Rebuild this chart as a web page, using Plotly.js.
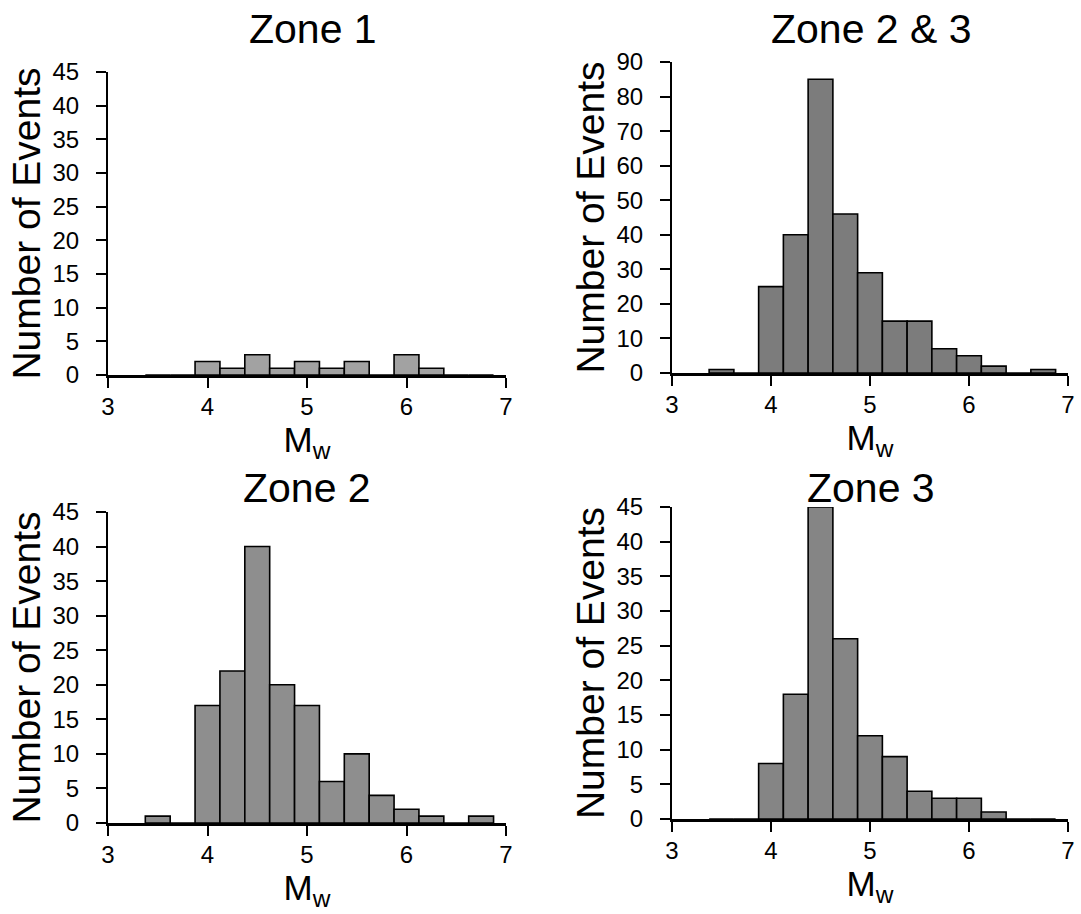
<!DOCTYPE html>
<html>
<head>
<meta charset="utf-8">
<script src="https://cdn.plot.ly/plotly-3.0.1.min.js"></script>
<style>
  html, body { margin: 0; padding: 0; background: #ffffff; }
  #chart { width: 1081px; height: 914px; }
</style>
</head>
<body>
<div id="chart"></div>
<script>
// Bin centres of moment magnitude (bin width 0.25)
const magCenters = [3.5, 3.75, 4.0, 4.25, 4.5, 4.75, 5.0, 5.25, 5.5, 5.75, 6.0, 6.25, 6.5, 6.75];
// Number of events per bin
const zone1  = [0, 0, 2, 1, 3, 1, 2, 1, 2, 0, 3, 1, 0, 0];
const zone23 = [1, 0, 25, 40, 85, 46, 29, 15, 15, 7, 5, 2, 0, 1];
const zone2  = [1, 0, 17, 22, 40, 20, 17, 6, 10, 4, 2, 1, 0, 1];
const zone3  = [0, 0, 8, 18, 45, 26, 12, 9, 4, 3, 3, 1, 0, 0];
const panelTitles = ["Zone 1", "Zone 2 & 3", "Zone 2", "Zone 3"];
const xTicks = [3, 4, 5, 6, 7];

const W = 1081, H = 914;
const FONT = "Arial, 'Liberation Sans', Helvetica, sans-serif";
const px = v => v / W;
const py = v => 1 - v / H;

function bar(y, xa, ya, color) {
  return {
    type: 'bar', x: magCenters, y: y, width: 0.25,
    xaxis: xa, yaxis: ya,
    marker: { color: color, line: { color: '#000', width: 1.6 } },
    showlegend: false, hoverinfo: 'x+y'
  };
}

const data = [
  bar(zone1, 'x', 'y', '#a2a2a2'),
  bar(zone23, 'x2', 'y2', '#7c7c7c'),
  bar(zone2, 'x3', 'y3', '#8e8e8e'),
  bar(zone3, 'x4', 'y4', '#858585')
];

function xaxis(domain, anchor) {
  return {
    domain: domain, anchor: anchor, range: [3, 7],
    tickmode: 'array', tickvals: xTicks, ticktext: xTicks.map(String),
    ticks: 'outside', ticklen: 10, tickwidth: 2, tickcolor: '#000',
    ticklabelstandoff: -2,
    showline: true, linecolor: '#000', linewidth: 3,
    showgrid: false, zeroline: false,
    tickfont: { family: FONT, size: 24, color: '#000' },
    title: { text: 'M<sub>w</sub>', font: { family: FONT, size: 35, color: '#000' }, standoff: 0 },
    automargin: false, fixedrange: true
  };
}
function yaxis(domain, anchor, max, dtick) {
  return {
    domain: domain, anchor: anchor, range: [0, max],
    tick0: 0, dtick: dtick,
    ticks: 'outside', ticklen: 10, tickwidth: 2, tickcolor: '#000',
    ticklabelstandoff: 12,
    showline: true, linecolor: '#000', linewidth: 2,
    showgrid: false, zeroline: false,
    tickfont: { family: FONT, size: 24, color: '#000' },
    title: { text: 'Number of Events', font: { family: FONT, size: 39, color: '#000' }, standoff: 0 },
    automargin: false, fixedrange: true
  };
}

const leftX = [px(108), px(506)];
const rightX = [px(672), px(1068)];

const layout = {
  width: W, height: H,
  margin: { l: 0, r: 0, t: 0, b: 0 },
  paper_bgcolor: '#fff', plot_bgcolor: '#fff',
  font: { family: FONT, color: '#000' },
  bargap: 0,
  xaxis: xaxis(leftX, 'y'),
  yaxis: yaxis([py(375), py(72)], 'x', 45, 5),
  xaxis2: xaxis(rightX, 'y2'),
  yaxis2: yaxis([py(373), py(62)], 'x2', 90, 10),
  xaxis3: xaxis(leftX, 'y3'),
  yaxis3: yaxis([py(823), py(512)], 'x3', 45, 5),
  xaxis4: xaxis(rightX, 'y4'),
  yaxis4: yaxis([py(819), py(507)], 'x4', 45, 5),
  annotations: [
    { text: panelTitles[0], x: px(313), y: py(29) },
    { text: panelTitles[1], x: px(871), y: py(29) },
    { text: panelTitles[2], x: px(307), y: py(488) },
    { text: panelTitles[3], x: px(871), y: py(488) }
  ].map(a => Object.assign(a, {
    xref: 'paper', yref: 'paper', xanchor: 'center', yanchor: 'middle',
    showarrow: false, font: { family: FONT, size: 41, color: '#000' }
  }))
};

Plotly.newPlot('chart', data, layout, { displayModeBar: false, staticPlot: true });
</script>
</body>
</html>
